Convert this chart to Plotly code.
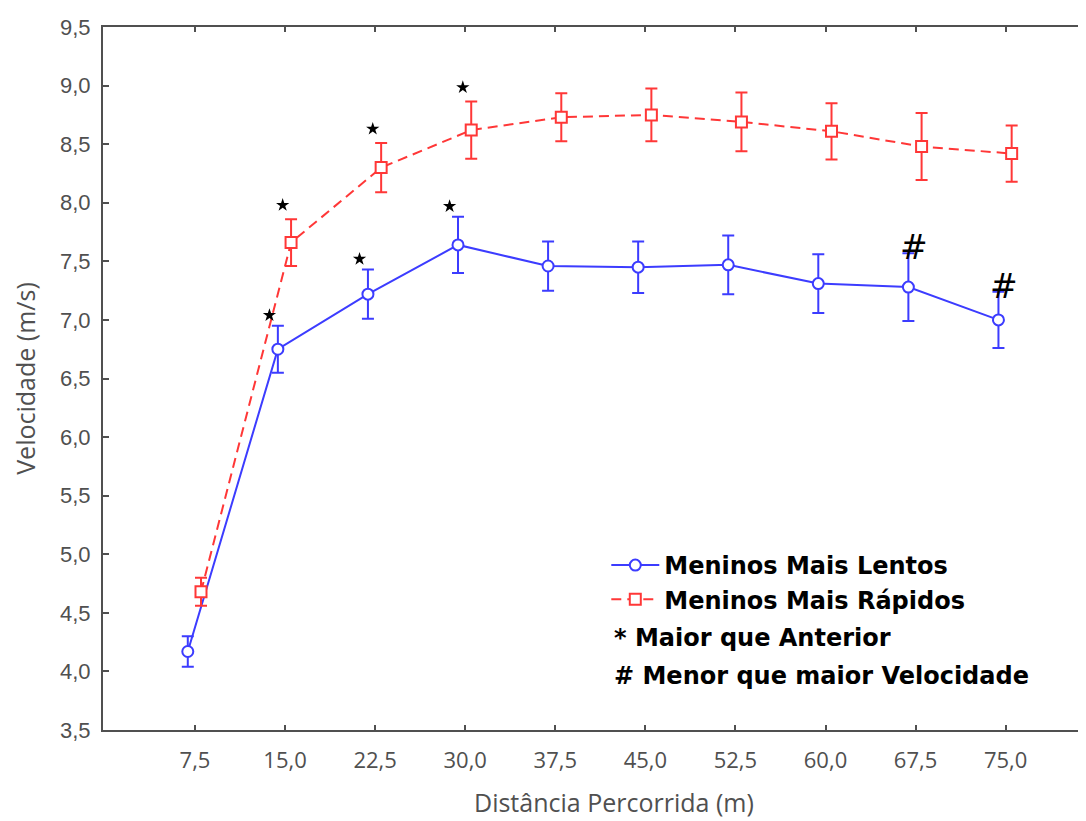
import plotly.graph_objects as go

# ---- data ----
distancia = [7.5, 15.0, 22.5, 30.0, 37.5, 45.0, 52.5, 60.0, 67.5, 75.0]
tick_labels = ["7,5", "15,0", "22,5", "30,0", "37,5", "45,0", "52,5", "60,0", "67,5", "75,0"]

lentos_media = [4.17, 6.75, 7.22, 7.64, 7.46, 7.45, 7.47, 7.31, 7.28, 7.00]
lentos_erro = [0.13, 0.20, 0.21, 0.24, 0.21, 0.22, 0.25, 0.25, 0.29, 0.24]

rapidos_media = [4.68, 7.66, 8.30, 8.62, 8.73, 8.75, 8.69, 8.61, 8.48, 8.42]
rapidos_erro = [0.12, 0.20, 0.21, 0.245, 0.205, 0.225, 0.25, 0.24, 0.285, 0.24]

# significance markers (indices into distancia)
star_lentos_idx = [1, 2, 3]
star_rapidos_idx = [1, 2, 3]
hash_lentos_idx = [8, 9]

BLUE = "rgb(60,60,255)"
RED = "rgb(255,55,55)"
GRAY = "#505050"

off_l = -0.6
off_r = 0.5

fig = go.Figure()

fig.add_trace(go.Scatter(
    x=[d + off_l for d in distancia], y=lentos_media,
    mode="lines+markers", name="Meninos Mais Lentos",
    line=dict(color=BLUE, width=2),
    marker=dict(symbol="circle", size=11, color="white", line=dict(color=BLUE, width=2)),
    error_y=dict(type="data", array=lentos_erro, color=BLUE, thickness=2, width=6),
))
fig.add_trace(go.Scatter(
    x=[d + off_r for d in distancia], y=rapidos_media,
    mode="lines+markers", name="Meninos Mais Rápidos",
    line=dict(color=RED, width=2, dash="10px,6px"),
    marker=dict(symbol="square", size=11, color="white", line=dict(color=RED, width=2)),
    error_y=dict(type="data", array=rapidos_erro, color=RED, thickness=2, width=6),
))

# stars
fig.add_trace(go.Scatter(
    x=[distancia[i] + off_l - 0.7 for i in star_lentos_idx],
    y=[lentos_media[i] + lentos_erro[i] + 0.09 for i in star_lentos_idx],
    mode="markers", marker=dict(symbol="star", size=10, color="black"),
    showlegend=False, hoverinfo="skip",
))
fig.add_trace(go.Scatter(
    x=[distancia[i] + off_r - 0.7 for i in star_rapidos_idx],
    y=[rapidos_media[i] + rapidos_erro[i] + 0.12 for i in star_rapidos_idx],
    mode="markers", marker=dict(symbol="star", size=10, color="black"),
    showlegend=False, hoverinfo="skip",
))
for i in hash_lentos_idx:
    fig.add_annotation(
        x=distancia[i] + off_l + 0.45, y=lentos_media[i] + lentos_erro[i],
        text="#", showarrow=False, yanchor="bottom", yshift=-16,
        font=dict(family="DejaVu Sans", size=33, color="black"),
    )

fig.add_annotation(xref="paper", yref="paper", x=0.518, y=0.131, xanchor="left", yanchor="middle",
                   text="<b>* Maior que Anterior</b>", showarrow=False,
                   font=dict(family="DejaVu Sans", size=24, color="black"))
fig.add_annotation(xref="paper", yref="paper", x=0.518, y=0.077, xanchor="left", yanchor="middle",
                   text="<b># Menor que maior Velocidade</b>", showarrow=False,
                   font=dict(family="DejaVu Sans", size=24, color="black"))

# x axis title
fig.add_annotation(xref="paper", yref="paper", x=0.52, y=-0.103, xanchor="center", yanchor="middle",
                   text="Distância Percorrida (m)", showarrow=False, borderpad=0,
                   font=dict(family="Open Sans", size=25, color=GRAY))

fig.update_layout(
    width=1086, height=821,
    margin=dict(l=95, r=8, t=19, b=99, autoexpand=False),
    paper_bgcolor="white", plot_bgcolor="white",
    separators=", ",
    showlegend=True,
    legend=dict(x=0.512, y=0.266, xanchor="left", yanchor="top",
                font=dict(family="DejaVu Sans", size=24, color="black", weight="bold"),
                bgcolor="rgba(0,0,0,0)", itemwidth=48, tracegroupgap=0),
)

fig.update_xaxes(
    range=[-0.16, 81.69], tickvals=distancia, ticktext=tick_labels,
    showgrid=False, zeroline=False, automargin=False,
    showline=True, linecolor=GRAY, linewidth=2, mirror="ticks",
    ticks="inside", ticklen=5, tickwidth=2, tickcolor=GRAY,
    ticklabelstandoff=10,
    tickfont=dict(family="Open Sans", size=22, color=GRAY),
)
fig.update_yaxes(
    range=[3.5, 9.5], dtick=0.5, tickformat=".1f",
    showgrid=False, zeroline=False, automargin=False,
    showline=True, linecolor=GRAY, linewidth=2, mirror=False,
    ticks="inside", ticklen=6, tickwidth=2, tickcolor=GRAY,
    ticklabelstandoff=6,
    tickfont=dict(family="Liberation Sans", size=22, color=GRAY),
    title=dict(text="Velocidade (m/s)", font=dict(family="Open Sans", size=25, color=GRAY), standoff=23),
)

fig.write_html("out.html")
